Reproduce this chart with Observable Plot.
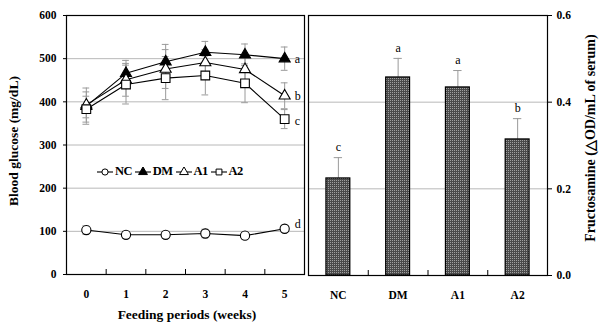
<!DOCTYPE html>
<html>
<head>
<meta charset="utf-8">
<script src="https://cdn.jsdelivr.net/npm/d3@7"></script>
<script src="https://cdn.jsdelivr.net/npm/@observablehq/plot@0.6"></script>
<style>
  html, body { margin: 0; padding: 0; background: white; }
  #wrap { position: relative; width: 601px; height: 324px; overflow: hidden; font-family: "Liberation Serif", "Times New Roman", serif; }
  .panel { position: absolute; top: 0; }
  .title { position: absolute; font-weight: bold; font-size: 13.5px; white-space: nowrap; color: #000; }
  .vt { transform-origin: center center; transform: translate(-50%, -50%) rotate(-90deg); }
  #legend { position: absolute; left: 97px; top: 164px; display: flex; align-items: center; font-weight: bold; font-size: 12.5px; letter-spacing: -0.6px; }
  #legend .item { display: flex; align-items: center; margin-right: 3px; }
  #legend svg { margin-right: 2px; }
</style>
</head>
<body>
<div id="wrap">
  <div id="left" class="panel" style="left:0"></div>
  <div id="right" class="panel" style="left:304px"></div>
  <div id="legend"></div>
  <div class="title vt" style="left:14px; top:141px;">Blood glucose (mg/dL)</div>
  <div class="title" style="left:187px; top:315px; transform: translate(-50%, -50%);">Feeding periods (weeks)</div>
  <div class="title vt" style="left:590px; top:138px; font-size:14px;">Fructosamine (△OD/mL of serum)</div>
</div>
<script>
// ---- Data: blood glucose (left panel) ----
const weeks = [0, 1, 2, 3, 4, 5];
const seriesNames = ["NC", "DM", "A1", "A2"];
const ncVals = [103, 92, 92, 95, 90, 106];
const ncErr  = [10, 8, 8, 10, 8, 8];
const dmVals = [390, 466, 493, 515, 509, 500];
const dmErr  = [42, 30, 40, 25, 25, 27];
const a1Vals = [393, 451, 476, 491, 475, 414];
const a1Err  = [30, 38, 45, 30, 30, 30];
const a2Vals = [383, 440, 455, 461, 443, 360];
const a2Err  = [30, 45, 50, 45, 45, 22];
const week5Letters = ["d", "a", "b", "c"];
const glucoseTicks = [0, 100, 200, 300, 400, 500, 600];

// ---- Data: fructosamine (right panel) ----
const groups = ["NC", "DM", "A1", "A2"];
const fructVals = [0.224, 0.457, 0.434, 0.314];
const fructErr  = [0.048, 0.044, 0.039, 0.048];
const fructLetters = ["c", "a", "a", "b"];
const fructTicks = [0, 0.2, 0.4, 0.6];

const FONT = '"Liberation Serif", "Times New Roman", serif';

const seriesDefs = [
  {name: "NC", vals: ncVals, err: ncErr, symbol: "circle", fill: "white", r: 4.6},
  {name: "DM", vals: dmVals, err: dmErr, symbol: "triangle", fill: "black", r: 4.1},
  {name: "A1", vals: a1Vals, err: a1Err, symbol: "triangle", fill: "white", r: 4.1},
  {name: "A2", vals: a2Vals, err: a2Err, symbol: "square", fill: "white", r: 4.9}
];

const rows = [];
seriesDefs.forEach((s, si) => {
  weeks.forEach((w, i) => rows.push({series: s.name, week: w, value: s.vals[i], err: s.err[i], si}));
});
const lastRows = seriesDefs.map((s, si) => ({series: s.name, week: weeks[weeks.length - 1], value: s.vals[s.vals.length - 1], letter: week5Letters[si]}));

const capHalf = 0.085;
const leftMarks = [
  Plot.gridY(glucoseTicks.slice(1, -1), {stroke: "#b8b8b8", strokeOpacity: 1}),
  Plot.ruleX(rows, {x: "week", y1: d => d.value - d.err, y2: d => d.value + d.err, stroke: "#9a9a9a", strokeWidth: 1}),
  Plot.ruleY(rows, {y: d => d.value - d.err, x1: d => d.week - capHalf, x2: d => d.week + capHalf, stroke: "#9a9a9a", strokeWidth: 1}),
  Plot.ruleY(rows, {y: d => d.value + d.err, x1: d => d.week - capHalf, x2: d => d.week + capHalf, stroke: "#9a9a9a", strokeWidth: 1}),
];
seriesDefs.forEach(s => {
  const data = rows.filter(d => d.series === s.name);
  leftMarks.push(Plot.line(data, {x: "week", y: "value", stroke: "black", strokeWidth: 1.1}));
});
seriesDefs.forEach(s => {
  const data = rows.filter(d => d.series === s.name);
  leftMarks.push(Plot.dot(data, {x: "week", y: "value", symbol: () => s.symbol, r: s.r, fill: s.fill, stroke: "black", strokeWidth: 1.1}));
});
const letterStyle = {x: "week", y: "value", text: "letter", dx: 10, textAnchor: "start", fontWeight: "normal", fontSize: 12, fontFamily: FONT};
leftMarks.push(
  Plot.text(lastRows.filter(d => d.series === "NC"), {...letterStyle, dy: -5}),
  Plot.text(lastRows.filter(d => d.series === "DM" || d.series === "A1"), {...letterStyle, dy: 0}),
  Plot.text(lastRows.filter(d => d.series === "A2"), {...letterStyle, dy: 2}),
  Plot.frame({stroke: "black", strokeWidth: 1.2}),
  Plot.axisY({ticks: glucoseTicks, tickSize: 3, tickPadding: 7, label: null, fontWeight: "bold"}),
  Plot.axisX({ticks: weeks, tickSize: 0, tickPadding: 15, tickFormat: d3.format("d"), label: null, fontWeight: "bold"}),
  Plot.axisX({ticks: weeks.slice(0, -1).map(w => w + 0.5), tickSize: -5, tickFormat: () => "", label: null})
);

const left = Plot.plot({
  width: 305, height: 324,
  marginLeft: 66, marginRight: 1, marginTop: 15, marginBottom: 50,
  x: {domain: [-0.5, 5.5]},
  y: {domain: [0, 600]},
  style: {fontFamily: FONT, fontSize: "11.5px", fontWeight: "bold", background: "transparent", color: "black", overflow: "visible"},
  marks: leftMarks
});
document.getElementById("left").appendChild(left);

// ---- right panel ----
const bars = groups.map((g, i) => ({group: g, idx: i, value: fructVals[i], err: fructErr[i], letter: fructLetters[i]}));
const bHalf = 0.2, cHalf = 0.07;
const right = Plot.plot({
  width: 297, height: 324,
  marginLeft: 4, marginRight: 54, marginTop: 15, marginBottom: 49,
  x: {domain: [-0.5, groups.length - 0.5]},
  y: {domain: [0, 0.6]},
  style: {fontFamily: FONT, fontSize: "11.5px", fontWeight: "bold", background: "transparent", color: "black"},
  marks: [
    Plot.gridY(fructTicks.slice(1, -1), {stroke: "#b8b8b8", strokeOpacity: 1}),
    Plot.ruleX(bars, {x: "idx", y1: "value", y2: d => d.value + d.err, stroke: "#9a9a9a", strokeWidth: 1}),
    Plot.ruleY(bars, {y: d => d.value + d.err, x1: d => d.idx - cHalf, x2: d => d.idx + cHalf, stroke: "#9a9a9a", strokeWidth: 1}),
    Plot.rectY(bars, {x1: d => d.idx - bHalf, x2: d => d.idx + bHalf, y1: 0, y2: "value", fill: "url(#dotpat)", stroke: "black", strokeWidth: 1.2}),
    Plot.text(bars, {x: "idx", y: d => d.value + d.err, text: "letter", dy: -10, fontWeight: "normal", fontSize: 12, fontFamily: FONT}),
    Plot.frame({stroke: "black", strokeWidth: 1.2}),
    Plot.axisY({anchor: "right", ticks: fructTicks, tickSize: 4, tickPadding: 5, tickFormat: d3.format(".1f"), label: null, fontWeight: "bold"}),
    Plot.axisX({ticks: groups.map((g, i) => i), tickSize: 0, tickPadding: 15, tickFormat: i => groups[i], label: null, fontWeight: "bold"}),
    Plot.axisX({ticks: groups.slice(0, -1).map((g, i) => i + 0.5), tickSize: -5, tickFormat: () => "", label: null})
  ]
});
d3.select(right).insert("defs", ":first-child").html(
  '<pattern id="dotpat" width="2" height="2" patternUnits="userSpaceOnUse">' +
  '<rect width="2" height="2" fill="#4a4a4a"/><rect width="1" height="1" fill="#a0a0a0"/></pattern>'
);
document.getElementById("right").appendChild(right);

// ---- legend ----
const legend = document.getElementById("legend");
seriesDefs.forEach(s => {
  const item = document.createElement("div");
  item.className = "item";
  const svg = d3.create("svg").attr("width", 16).attr("height", 10);
  svg.append("line").attr("x1", 0).attr("x2", 16).attr("y1", 5).attr("y2", 5).attr("stroke", "black").attr("stroke-width", 1.1);
  const sym = {circle: d3.symbolCircle, triangle: d3.symbolTriangle, square: d3.symbolSquare}[s.symbol];
  svg.append("path").attr("d", d3.symbol(sym, s.symbol === "circle" ? 30 : 34)()).attr("transform", "translate(8,5)")
    .attr("fill", s.fill).attr("stroke", "black").attr("stroke-width", 1);
  item.appendChild(svg.node());
  const t = document.createElement("span");
  t.textContent = s.name;
  item.appendChild(t);
  legend.appendChild(item);
});
</script>
</body>
</html>
